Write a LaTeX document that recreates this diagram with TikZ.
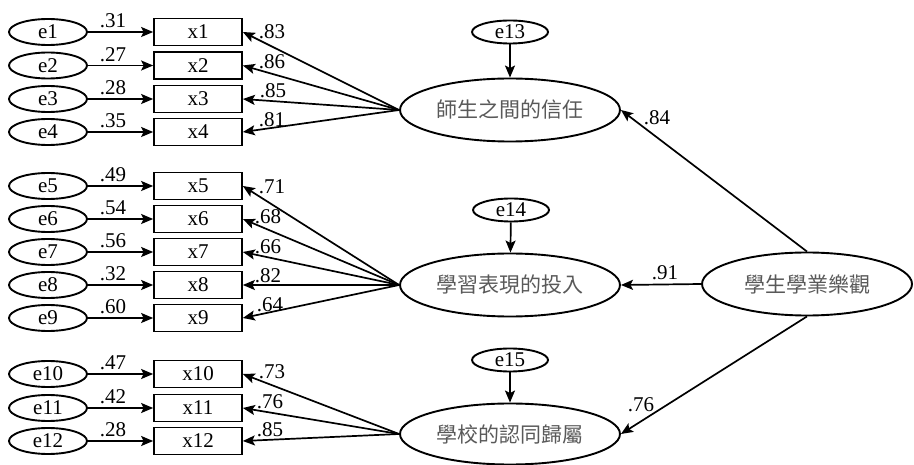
\documentclass[tikz,border=0pt]{standalone}
\usepackage{fontspec}
\setmainfont{Liberation Serif}
\newfontfamily\cjk{Noto Sans CJK TC}
\usetikzlibrary{shapes.geometric,arrows.meta}
\begin{document}
\begin{tikzpicture}[x=1pt,y=-1pt,
  eell/.style={ellipse,draw,line width=1.9pt,minimum width=78pt,minimum height=26pt,inner sep=0pt,font=\fontsize{21}{21}\selectfont},
  dell/.style={ellipse,draw,line width=1.9pt,minimum width=76pt,minimum height=23pt,inner sep=0pt,font=\fontsize{21}{21}\selectfont},
  obs/.style={rectangle,draw,line width=1.7pt,minimum width=88pt,minimum height=27pt,inner sep=0pt,font=\fontsize{21}{21}\selectfont},
  lat/.style={ellipse,draw,line width=1.9pt,minimum width=220pt,minimum height=63pt,inner sep=0pt,font=\cjk\fontsize{21}{21}\selectfont,text=black!65},
  num/.style={inner sep=0pt,font=\fontsize{21}{21}\selectfont},
  arr/.style={line width=1.7pt,-{Stealth[length=12pt,width=10pt,inset=2.5pt]}}
]
\useasboundingbox (0,0) rectangle (914,465);

% latent variables
\node[lat] (L1) at (510,110) {師生之間的信任};
\node[lat] (L2) at (510,285) {學習表現的投入};
\node[lat,minimum height=61pt] (L3) at (510,434) {學校的認同歸屬};
\node[lat,minimum width=210pt] (L4) at (807,284) {學生學業樂觀};

% disturbances
\node[dell] (e13) at (510,32) {e13};
\node[dell] (e14) at (511,210) {e14};
\node[dell] (e15) at (510,360) {e15};
\draw[arr] (e13) -- (L1);
\draw[arr] (e14) -- (L2);
\draw[arr] (e15) -- (L3);

% indicators
\foreach \i/\y in {1/32,2/65.5,3/99,4/132,5/186,6/219,7/252,8/285,9/318,10/374,11/408,12/441}{
  \node[eell] (e\i) at (48,\y) {e\i};
  \node[obs] (x\i) at (198,\y) {x\i};
  \draw[arr] (e\i) -- (x\i);
}

% error labels
\foreach \i/\y/\t in {1/21/.31,2/55/.27,3/88/.28,4/121/.35,5/175/.49,6/208/.54,7/241/.56,8/274/.32,9/307/.60,10/363/.47,11/397/.42,12/430/.28}{
  \node[num] (le\i) at (113,\y) {\t};
}

% loadings
\foreach \i in {1,2,3,4}{ \draw[arr] (L1.west) -- (x\i.east); }
\foreach \i in {5,6,7,8,9}{ \draw[arr] (L2.west) -- (x\i.east); }
\foreach \i in {10,11,12}{ \draw[arr] (L3.west) -- (x\i.east); }

\foreach \i/\x/\y/\t in {1/272/32/.83,2/272/62/.86,3/273/91/.85,4/272/120/.81,
  5/272/187/.71,6/268/217/.68,7/268/247/.66,8/268/276/.82,9/270/305/.64,
  10/272/372/.73,11/270/402/.76,12/270/430/.85}{
  \node[num] (lx\i) at (\x,\y) {\t};
}

% structural paths
\draw[arr] (L4.north) -- (L1.east);
\draw[arr] (L4.west) -- (L2.east);
\draw[arr] (L4.south) -- (L3.east);
\node[num] (p1) at (657,118) {.84};
\node[num] (p2) at (665,273) {.91};
\node[num] (p3) at (641,405) {.76};
\end{tikzpicture}
\end{document}
